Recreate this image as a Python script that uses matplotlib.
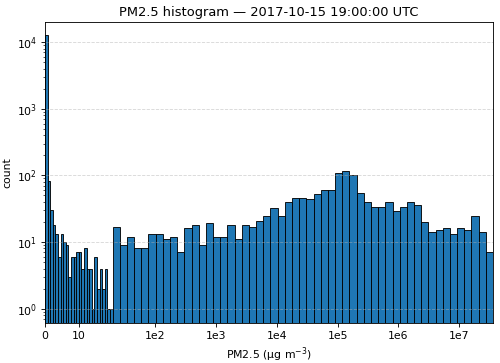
import matplotlib
matplotlib.use("Agg")
import matplotlib.pyplot as plt
import numpy as np
from matplotlib.ticker import NullLocator

# bin layout: linear bins below the symlog threshold, log bins above it
lin_thresh = 20.0
x_max = 3.6e7
n_lin = 26
n_log = 53

# counts per bin
counts_lin = [12700, 82, 30, 18, 13, 6, 13, 10, 9, 3, 6, 6, 7,
              7, 4, 8, 4, 4, 1, 6, 2, 4, 2, 4, 1, 1]
counts_log = [17, 9, 12, 8, 8, 13, 13, 11, 12, 7,
              16, 18, 9, 19, 12, 12, 18, 11, 18, 17,
              21, 25, 32, 25, 40, 46, 46, 44, 52, 61,
              60, 107, 117, 100, 55, 40, 34, 34, 40, 29,
              33, 40, 36, 20, 14, 15, 16, 13, 16, 15,
              25, 14, 7]

xtick_vals = [0, 10, 1e2, 1e3, 1e4, 1e5, 1e6, 1e7]
xtick_labels = ["0", "10", "1e2", "1e3", "1e4", "1e5", "1e6", "1e7"]

edges = np.concatenate([np.linspace(0, lin_thresh, n_lin + 1)[:-1],
                        np.logspace(np.log10(lin_thresh), np.log10(x_max), n_log + 1)])
counts = np.array(counts_lin + counts_log, dtype=float)

dpi = 78.125
fig, ax = plt.subplots(figsize=(500 / dpi, 363 / dpi), dpi=dpi)
fig.subplots_adjust(left=0.09, right=0.986, top=0.939, bottom=0.11)

ax.bar(edges[:-1], counts, width=np.diff(edges), align='edge',
       color='#1f77b4', edgecolor='black', linewidth=0.8)

ax.set_xscale('symlog', linthresh=lin_thresh, linscale=1.0)
ax.set_yscale('log')
ax.set_xlim(edges[0], edges[-1])
ax.set_ylim(0.608, 1.995e4)

ax.set_xticks(xtick_vals)
ax.set_xticklabels(xtick_labels)
ax.xaxis.set_minor_locator(NullLocator())

ax.grid(axis='y', which='major', linestyle='--', alpha=0.5)

ax.set_title("PM2.5 histogram — 2017-10-15 19:00:00 UTC")
ax.set_xlabel("PM2.5 (µg m$^{-3}$)")
ax.set_ylabel("count")

plt.savefig("out.png", dpi=dpi)
